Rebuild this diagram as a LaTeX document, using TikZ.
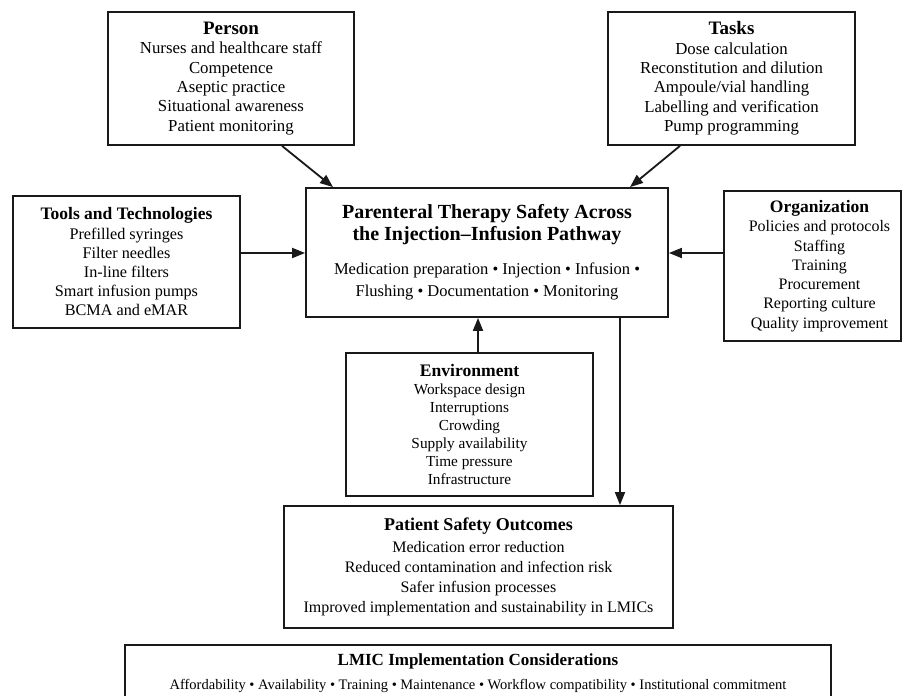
\documentclass[tikz,border=0pt]{standalone}
\usepackage{fontspec}
\setmainfont{Liberation Serif}
\usetikzlibrary{arrows.meta,calc}
\tikzset{
  fbox/.style={draw=black!90, line width=1.8pt, align=center, inner sep=0pt, rectangle},
  plain/.style={align=center, inner sep=0pt},
  arr/.style={draw=black!90, line width=1.8pt, -{Triangle[length=13pt,width=10pt]}}
}
\begin{document}
\begin{tikzpicture}[x=1pt,y=1pt]
\useasboundingbox (0,0) rectangle (903,696);
\fill[white] (0,0) rectangle (903,696);
\clip (0,0) rectangle (903,696);

\node[fbox, minimum width=246pt, minimum height=133pt, font=\fontsize{16.8}{19.4}\selectfont] (person) at (231,617.5)
 {{\bfseries\fontsize{19}{22}\selectfont Person}\\ Nurses and healthcare staff\\ Competence\\ Aseptic practice\\ Situational awareness\\ Patient monitoring};

\node[fbox, minimum width=247pt, minimum height=133pt, font=\fontsize{16.8}{19.4}\selectfont] (tasks) at (731.5,617.5)
 {{\bfseries\fontsize{19}{22}\selectfont Tasks}\\ Dose calculation\\ Reconstitution and dilution\\ Ampoule/vial handling\\ Labelling and verification\\ Pump programming};

\node[fbox, minimum width=227pt, minimum height=132pt, font=\fontsize{16.2}{19.2}\selectfont] (tools) at (126.5,434)
 {{\bfseries\fontsize{17.5}{21}\selectfont Tools and Technologies}\\ Prefilled syringes\\ Filter needles\\ In-line filters\\ Smart infusion pumps\\ BCMA and eMAR};

\node[fbox, minimum width=362pt, minimum height=129pt, font=\fontsize{16.5}{22}\selectfont] (center) at (487,443.5)
 {{\bfseries\fontsize{20}{23}\selectfont Parenteral Therapy Safety Across}\\ {\bfseries\fontsize{20}{23}\selectfont the Injection–Infusion Pathway}\\[12pt] Medication preparation • Injection • Infusion •\\ Flushing • Documentation • Monitoring};

\node[fbox, minimum width=177pt, minimum height=150pt] (org) at (812.5,430) {};
\node[plain, font=\fontsize{16}{19.3}\selectfont] (orgtext) at (819.5,430)
 {{\bfseries\fontsize{17.5}{21}\selectfont Organization}\\ Policies and protocols\\ Staffing\\ Training\\ Procurement\\ Reporting culture\\ Quality improvement};

\node[fbox, minimum width=247pt, minimum height=143pt, font=\fontsize{15.3}{18}\selectfont] (env) at (469.5,271.5)
 {{\bfseries\fontsize{17.6}{20}\selectfont Environment}\\ Workspace design\\ Interruptions\\ Crowding\\ Supply availability\\ Time pressure\\ Infrastructure};

\node[fbox, minimum width=389pt, minimum height=122pt, font=\fontsize{16}{20}\selectfont] (pso) at (478.5,129)
 {{\bfseries\fontsize{18}{21}\selectfont Patient Safety Outcomes}\\[2pt] Medication error reduction\\ Reduced contamination and infection risk\\ Safer infusion processes\\ Improved implementation and sustainability in LMICs};

\node[fbox, minimum width=706pt, minimum height=57pt, font=\fontsize{14.5}{24}\selectfont] (lmic) at (478,22.5)
 {{\bfseries\fontsize{17}{20}\selectfont LMIC Implementation Considerations}\\ Affordability • Availability • Training • Maintenance • Workflow compatibility • Institutional commitment};

\coordinate (row) at (0,443);
\coordinate (envtop) at ([xshift=8.5pt]env.north);
\coordinate (cbot) at ([xshift=133pt]center.south);
\draw[arr] ([xshift=51pt]person.south) -- ([xshift=-154pt]center.north);
\draw[arr] ([xshift=-51.5pt]tasks.south) -- ([xshift=143pt]center.north);
\draw[arr] (tools.east |- row) -- (center.west |- row);
\draw[arr] (org.west |- row) -- (center.east |- row);
\draw[arr] (envtop) -- (center.south -| envtop);
\draw[arr] (cbot) -- (pso.north -| cbot);
\end{tikzpicture}
\end{document}
